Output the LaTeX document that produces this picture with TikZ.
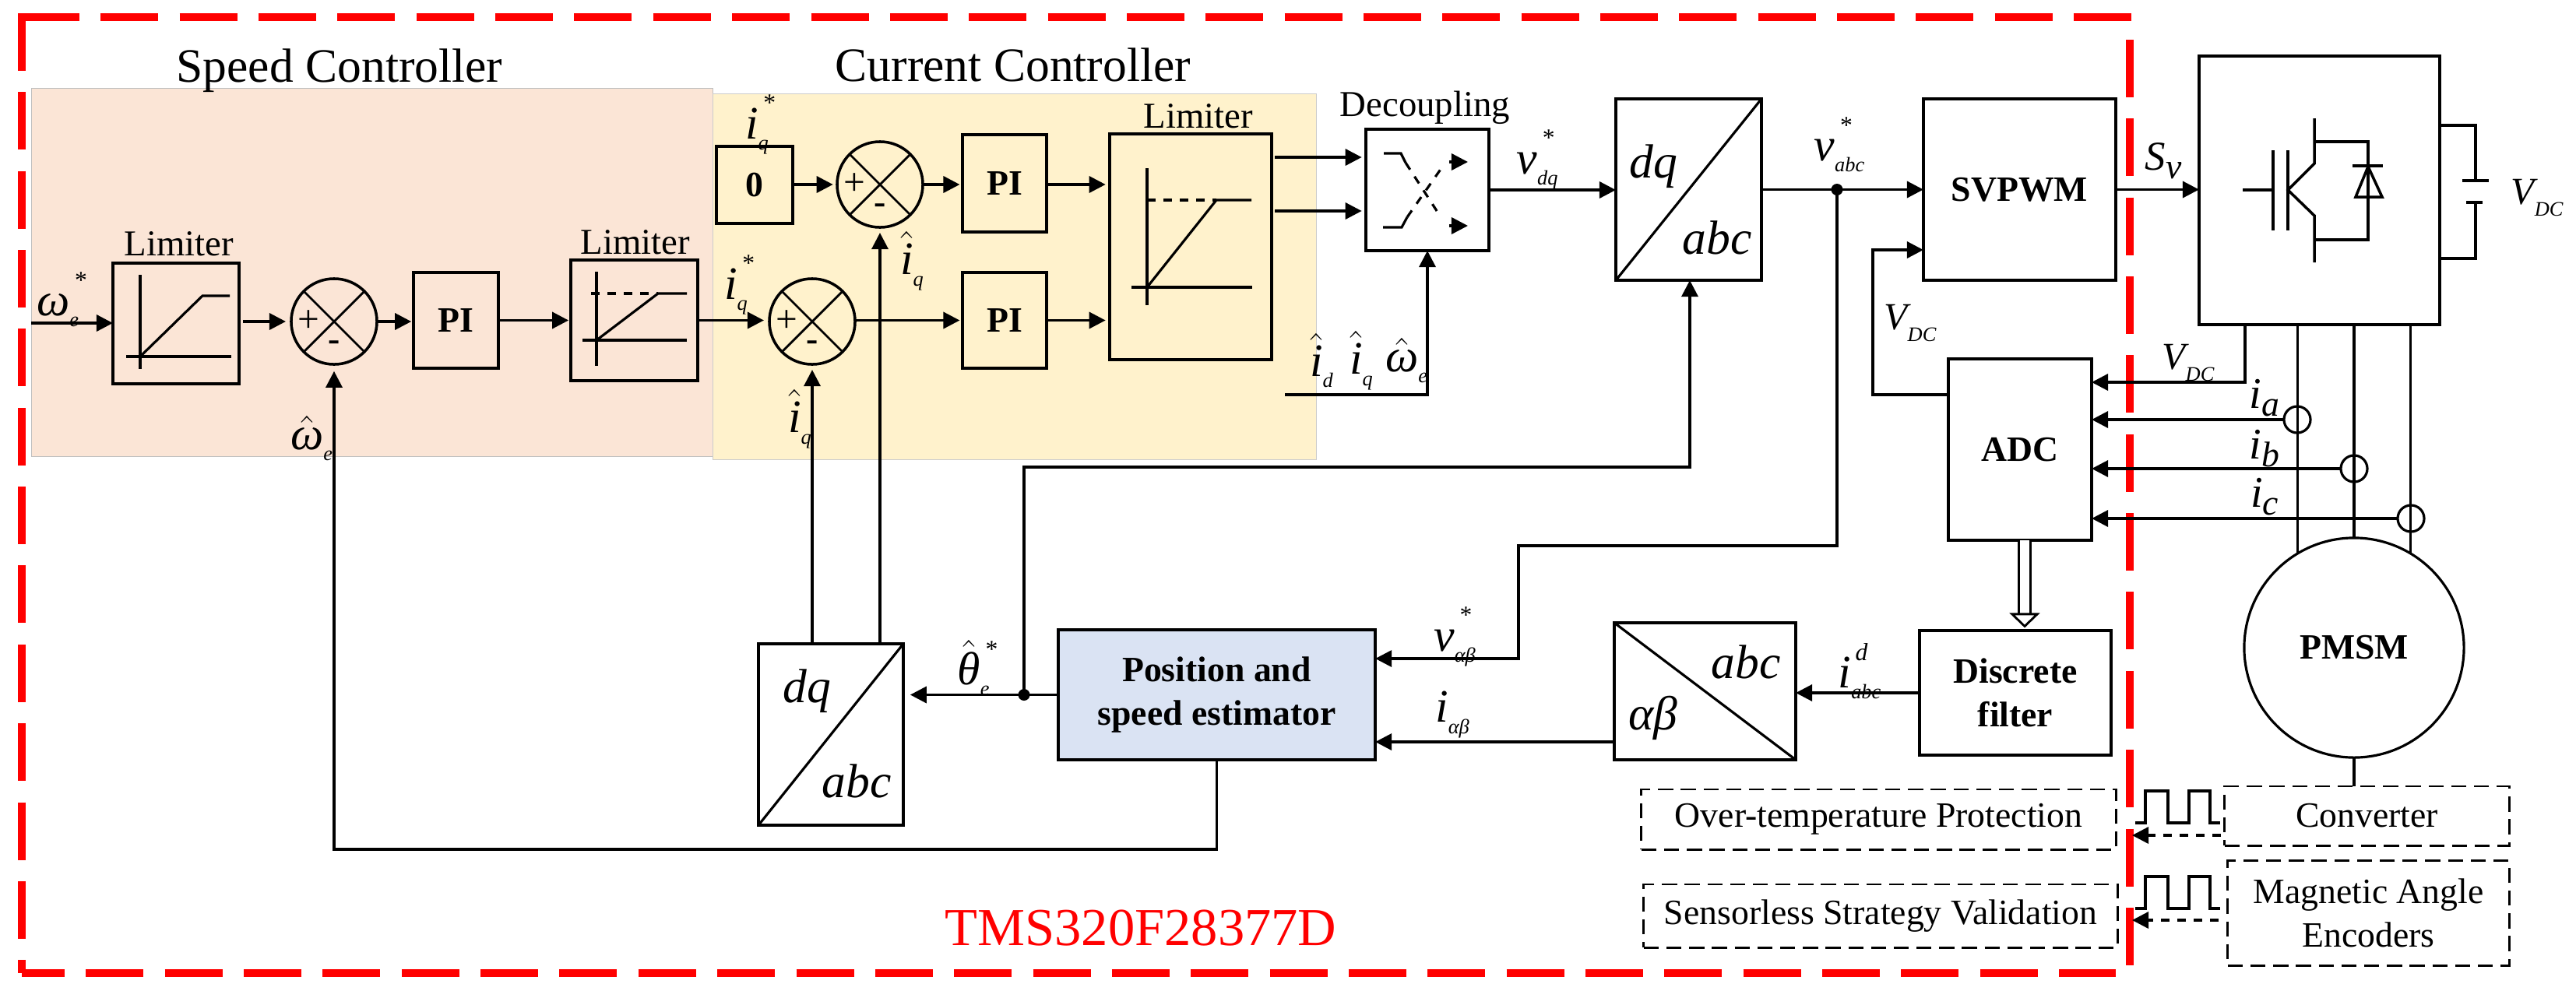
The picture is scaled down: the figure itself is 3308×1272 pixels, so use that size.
\documentclass[tikz,border=0pt]{standalone}
\usepackage{amsmath}
\usepackage{fontspec}
\setmainfont{Liberation Serif}
\usetikzlibrary{arrows.meta}
\definecolor{dspred}{HTML}{FF0000}
\definecolor{speedbg}{HTML}{FBE5D6}
\definecolor{currentbg}{HTML}{FFF2CC}
\definecolor{estbg}{HTML}{DAE3F3}
\newcommand{\fsz}[1]{\fontsize{#1}{#1}\selectfont}
% base letter, subscript, superscript
\newcommand{\sym}[3]{{\itshape #1}\rlap{\raisebox{10pt}{\fsz{9}\,\itshape #3}}\raisebox{-4pt}{\fsz{7.5}\itshape #2}}
\newcommand{\hatit}[1]{$\hat{\mbox{\itshape #1}}$}
\newcommand{\vdc}{{\fsz{14}\itshape V}\raisebox{-4pt}{\fsz{7.5}\itshape DC}}
\newcommand{\iph}[1]{{\fsz{16}\itshape i}\raisebox{-3pt}{\fsz{13}\itshape #1}}
\tikzset{
  blockbox/.style={draw,line width=1.1pt,inner sep=0pt,outer sep=0pt,align=center,font=\fsz{13}\bfseries},
  sumnode/.style={draw,circle,line width=1pt,minimum size=1.1cm,inner sep=0pt,outer sep=0pt},
  sensor/.style={draw,circle,line width=.9pt,minimum size=.34cm,inner sep=0pt,outer sep=0pt},
  dot/.style={fill,circle,minimum size=.15cm,inner sep=0pt,outer sep=0pt},
  dashbox/.style={draw,line width=.85pt,dash pattern=on 5.5pt off 2.8pt,inner sep=0pt,outer sep=0pt,align=center,font=\fsz{13}},
  sig/.style={->,line width=1pt},
  thinline/.style={line width=.95pt},
  hollow/.style={double,double distance=3.6pt,line width=.8pt,-{Triangle[open,length=5.4pt,width=11pt,line width=.8pt]}},
  title/.style={font=\fsz{17.5},inner sep=0pt,anchor=base},
  limcap/.style={font=\fsz{13.3},inner sep=0pt,anchor=base},
  lab/.style={font=\fsz{17},inner sep=0pt},
  transf/.style={font=\fsz{17.5}\itshape,inner sep=0pt},
  reddash/.style={dspred,line width=2.85pt,dash pattern=on 21.05pt off 7.77pt}
}

\begin{document}
\begin{tikzpicture}[x=.01cm,y=-.01cm,>={Triangle[length=6pt,width=6pt]},line join=miter]
  \useasboundingbox (0,0) rectangle (3308,1272);

  % shaded controller areas
  \fill[speedbg,draw=black!25,line width=.2pt] (40,113) rectangle (915,586);
  \fill[currentbg,draw=black!20,line width=.2pt] (915,120) rectangle (1690,590);

  % DSP boundary
  \draw[reddash] (28,22) -- (2739,22);
  \draw[reddash] (28,17) -- (28,1250);
  \draw[reddash] (2735,51) -- (2735,1240);
  \draw[reddash,dash phase=5.4pt] (28,1250) -- (2717,1250);
  \node[font=\fsz{19.5},text=dspred,inner sep=0pt] (dsp) at (1465,1192) {TMS320F28377D};

  \node[title] (speedtitle) at (436,105) {Speed Controller};
  \node[title] (currenttitle) at (1301,104) {Current Controller};

  % speed loop
  \node[blockbox,minimum width=1.62cm,minimum height=1.55cm] (lim1) at (226,415.5) {};
  \node[limcap] (limcap1) at (230,328) {Limiter};
  \node[sumnode] (sum1) at (429,413) {};
  \node[blockbox,minimum width=1.09cm,minimum height=1.23cm] (pi1) at (585.5,411.5) {PI};
  \node[blockbox,minimum width=1.63cm,minimum height=1.55cm] (lim2) at (814.5,411.5) {};
  \node[limcap] (limcap2) at (816,326) {Limiter};

  % current loops
  \node[sumnode] (sum2) at (1043,413) {};
  \node[sumnode] (sum3) at (1130,237) {};
  \node[blockbox,minimum width=.98cm,minimum height=.99cm] (zero) at (969,237.5) {0};
  \node[blockbox,minimum width=1.08cm,minimum height=1.25cm] (pi2) at (1290,235.5) {PI};
  \node[blockbox,minimum width=1.08cm,minimum height=1.23cm] (pi3) at (1290,411.5) {PI};
  \node[blockbox,minimum width=2.08cm,minimum height=2.9cm] (lim3) at (1529,317) {};
  \node[limcap] (limcap3) at (1539,164) {Limiter};
  \node[blockbox,minimum width=1.58cm,minimum height=1.56cm] (dec) at (1833,244) {};
  \node[limcap] (deccap) at (1830,149) {Decoupling};

  % modulation and converter side
  \node[blockbox,minimum width=1.87cm,minimum height=2.33cm] (dq1) at (2168.5,243.5) {};
  \node[blockbox,minimum width=2.47cm,minimum height=2.33cm] (svpwm) at (2593.5,243.5) {SVPWM};
  \node[blockbox,minimum width=3.09cm,minimum height=3.45cm] (inv) at (2978.5,244.5) {};
  \node[blockbox,minimum width=1.84cm,minimum height=2.33cm] (adc) at (2594,577.5) {ADC};
  \node[blockbox,minimum width=2.46cm,minimum height=1.6cm] (filt) at (2588,890) {Discrete\\[3pt]filter};
  \node[blockbox,minimum width=2.33cm,minimum height=1.76cm] (ab) at (2189.5,888) {};
  \node[blockbox,fill=estbg,minimum width=4.07cm,minimum height=1.67cm] (est) at (1562.5,892.5) {Position and\\[3pt]speed estimator};
  \node[blockbox,minimum width=1.86cm,minimum height=2.33cm] (dq2) at (1067,943.5) {};
  \node[draw,circle,line width=.9pt,minimum size=2.82cm,inner sep=0pt,outer sep=0pt,font=\fsz{13}\bfseries] (motor) at (3023,832) {PMSM};

  \node[dashbox,minimum width=6.09cm,minimum height=.77cm] (over) at (2412.5,1052.5) {Over-temperature Protection};
  \node[dashbox,minimum width=6.08cm,minimum height=.81cm] (sens) at (2415,1176.5) {Sensorless Strategy Validation};
  \node[dashbox,minimum width=3.65cm,minimum height=.76cm] (conv) at (3039.5,1048) {Converter};
  \node[dashbox,minimum width=3.61cm,minimum height=1.34cm] (magn) at (3041.5,1173) {Magnetic Angle\\[3pt]Encoders};

  % summing junction marks
  \foreach \s in {sum1,sum2,sum3} {
    \draw[line width=.8pt] (\s.45) -- (\s.225);
    \draw[line width=.8pt] (\s.135) -- (\s.-45);
    \node[font=\fsz{14},inner sep=0pt] (\s plus) at ([xshift=-.33cm]\s.center) {+};
    \node[font=\fsz{13}\bfseries,inner sep=0pt] (\s minus) at ([yshift=-.31cm]\s.center) {-};
  }

  % limiter curves
  \draw[line width=.9pt] (180,353) -- (180,474) (162,458) -- (297,458);
  \draw[line width=.9pt] (180,458) -- (260,380) -- (295,380);
  \draw[line width=.9pt] (766,349) -- (766,470) (748,437) -- (882,437);
  \draw[line width=.9pt] (766,437) -- (845,377) -- (882,377);
  \draw[line width=.9pt,dashed] (759,377) -- (845,377);
  \draw[line width=.9pt] (1473,216) -- (1473,392) (1453,369) -- (1608,369);
  \draw[line width=.9pt] (1473,369) -- (1562,257) -- (1607,257);
  \draw[line width=.9pt,dashed] (1473,257) -- (1562,257);

  % decoupling cross
  \draw[line width=.9pt] (1777,197) -- (1799,197) -- (1805,209);
  \draw[line width=.9pt,dashed] (1805,209) -- (1849,277);
  \draw[line width=.9pt] (1776,292) -- (1800,292) -- (1807,279);
  \draw[line width=.9pt,dashed] (1807,279) -- (1851,216);
  \draw[sig] (1861,290) -- (1885,290);
  \draw[sig] (1861,208) -- (1885,208);

  % transform blocks
  \draw[line width=.9pt] (dq1.south west) -- (dq1.north east);
  \draw[line width=.9pt] (dq2.south west) -- (dq2.north east);
  \draw[line width=.9pt] (ab.north west) -- (ab.south east);
  \node[transf] (dqa) at (2123,214) {dq};
  \node[transf] (abca) at (2205,305) {abc};
  \node[transf] (dqb) at (1036,888) {dq};
  \node[transf] (abcb) at (1100,1003) {abc};
  \node[transf] (abcc) at (2242,850) {abc};
  \node[transf] (albe) at (2123,922) {αβ};

  % igbt with diode
  \draw[line width=1pt] (2880,244) -- (2919,244) (2919,193) -- (2919,296) (2938,193) -- (2938,296);
  \draw[line width=1pt] (2972,152) -- (2972,210) -- (2938,244) -- (2972,277) -- (2972,337);
  \draw[line width=1pt] (2972,182) -- (3041,182) -- (3041,308) -- (2972,308);
  \draw[line width=1pt] (3041,214) -- (3025,253) -- (3059,253) -- cycle;
  \draw[line width=1pt] (3021,213) -- (3060,213);
  % dc link
  \draw[line width=1pt] (3133,161) -- (3179,161) -- (3179,232) (3162,232) -- (3196,232);
  \draw[line width=1pt] (3133,332) -- (3179,332) -- (3179,260) (3167,260) -- (3188,260);

  % speed and current paths
  \coordinate (win) at (40,415);
  \draw[sig] (win) -- (lim1.west |- win);
  \draw[sig,shorten >=2pt,shorten <=1.5pt] (lim1.east |- sum1) -- (sum1.west);
  \draw[sig,shorten >=.8pt] (sum1.east) -- (sum1.east -| pi1.west);
  \draw[sig,shorten >=.8pt] (pi1.east) -- (lim2.west);
  \draw[sig,shorten >=2pt] (lim2.east) -- (lim2.east -| sum2.west);
  \draw[sig,shorten >=1.5pt] (zero.east |- sum3) -- (sum3.west);
  \draw[sig,shorten >=1pt] (sum3.east) -- (sum3.east -| pi2.west);
  \draw[sig,shorten >=1pt] (sum2.east |- pi3) -- (pi3.west);
  \draw[sig,shorten >=1.5pt] (pi2.east |- sum3) -- (sum3 -| lim3.west);
  \draw[sig,shorten >=1.5pt] (pi3.east) -- (pi3.east -| lim3.west);
  \coordinate (cp1) at (1637,202);
  \coordinate (cp2) at (1637,271);
  \draw[sig,shorten >=1.5pt] (cp1) -- (cp1 -| dec.west);
  \draw[sig,shorten >=1.5pt] (cp2) -- (cp2 -| dec.west);
  \draw[sig] (dec.east) -- (dec.east -| dq1.west);
  \draw[sig] (dq1.east) -- (svpwm.west);
  \draw[sig] (svpwm.east) -- (svpwm.east -| inv.west);
  \node[dot] (jn2) at (2359,243.5) {};

  % feedback paths
  \coordinate (fbk) at (429,1091);
  \draw[->,thinline,shorten >=2.5pt] (est.south) |- (fbk) -- (sum1.south);
  \draw[->,thinline,shorten >=2pt] (sum2.south |- dq2.north) -- (sum2.south);
  \draw[->,thinline,shorten >=2pt] (sum3.south |- dq2.north) -- (sum3.south);
  \coordinate (dfd) at (1650,507);
  \draw[->,thinline] (dfd) -| (dec.south);
  \node[dot] (jn1) at (1315,892.5) {};
  \draw[sig,shorten >=2.5pt] (est.west) -- (est.west -| dq2.east);
  \coordinate (thc) at (2170,600);
  \draw[->,thinline] (jn1.center) |- (thc) -- (thc |- dq1.south);
  \coordinate (vcA) at (2359,701);
  \coordinate (vcB) at (1950,701);
  \coordinate (vcC) at (1950,846);
  \draw[->,thinline] (jn2.center) -- (vcA) -- (vcB) -- (vcC) -- (vcC -| est.east);
  \coordinate (ibe) at (2073,953);
  \draw[sig] (ibe) -- (ibe -| est.east);
  \draw[sig] (filt.west) -- (filt.west -| ab.east);

  % converter measurements
  \coordinate (adcV) at (2502,507);
  \coordinate (vdA) at (2405,507);
  \coordinate (vdB) at (2405,321);
  \draw[sig] (adcV) -- (vdA) -- (vdB) -- (vdB -| svpwm.west);
  \coordinate (invV) at (2883,417);
  \coordinate (adcD) at (2686,491);
  \draw[sig] (invV) |- (adcD);
  \node[sensor] (sa) at (2950,539) {};
  \node[sensor] (sb) at (3023,602) {};
  \node[sensor] (sc) at (3096,666) {};
  \draw[thinline] (motor.121 |- inv.south) -- (motor.121);
  \draw[thinline] (motor.90 |- inv.south) -- (motor.90);
  \draw[thinline] (motor.59 |- inv.south) -- (motor.59);
  \draw[sig] (sa.west) -- (sa.west -| adc.east);
  \draw[sig] (sb.west) -- (sb.west -| adc.east);
  \draw[sig] (sc.west) -- (sc.west -| adc.east);
  \draw[hollow,shorten >=1pt] ([xshift=.06cm]adc.south) -- ([xshift=.06cm]adc.south |- filt.north);
  \draw[thinline] (motor.south) -- (motor.south |- conv.north);

  % pwm pulses and signal arrows
  \foreach \ylo/\yhi in {1057/1016,1167/1126} {
    \draw[line width=.9pt] (2742,\ylo) -- (2755,\ylo) -- (2755,\yhi) -- (2784,\yhi) -- (2784,\ylo)
      -- (2811,\ylo) -- (2811,\yhi) -- (2838,\yhi) -- (2838,\ylo) -- (2851,\ylo);
  }
  \coordinate (pa) at (2852,1073);
  \coordinate (pb) at (2738,1073);
  \coordinate (pc) at (2849,1182);
  \coordinate (pd) at (2738,1182);
  \draw[sig,dashed] (pa) -- (pb);
  \draw[sig,dashed] (pc) -- (pd);

  % signal labels
  \node[lab] (lwref) at (74,385) {\sym{ω}{e}{*}};
  \node[lab] (liq1) at (945,366) {\sym{i}{q}{*}};
  \node[lab] (liq2) at (972,160) {\sym{i}{q}{*}};
  \node[lab] (lwh1) at (400,563) {\sym{\hatit{ω}}{e}{}};
  \node[lab] (lih1) at (1027,538) {\sym{\hatit{i}}{q}{}};
  \node[lab] (lih2) at (1171,335) {\sym{\hatit{i}}{q}{}};
  \node[lab] (lid) at (1697,463) {\sym{\hatit{i}}{d}{}};
  \node[lab] (liq3) at (1748,463) {\sym{\hatit{i}}{q}{}};
  \node[lab] (lwh2) at (1806,463) {\sym{\hatit{ω}}{e}{}};
  \node[lab] (lvdq) at (1974,205) {\sym{v}{dq}{*}};
  \node[lab] (lvabc) at (2362,186) {\sym{v}{abc}{*}};
  \node[lab] (lsv) at (2778,207) {{\fsz{15}\itshape S}\raisebox{-3pt}{\fsz{13}\itshape v}};
  \node[inner sep=0pt] (lvdc1) at (2453,415) {\vdc};
  \node[inner sep=0pt] (lvdc2) at (2810,466) {\vdc};
  \node[inner sep=0pt] (lvdc3) at (3258,254) {\vdc};
  \node[inner sep=0pt] (lia) at (2908,511) {\iph{a}};
  \node[inner sep=0pt] (lib) at (2908,576) {\iph{b}};
  \node[inner sep=0pt] (lic) at (2908,638) {\iph{c}};
  \node[lab] (liabc) at (2388,862) {\sym{i}{abc}{d}};
  \node[lab] (lvab) at (1868,818) {\sym{v}{αβ}{*}};
  \node[lab] (liab) at (1865,918) {\sym{i}{αβ}{}};
  \node[lab] (lth) at (1250,858) {\sym{\hatit{θ}}{e}{*}};
\end{tikzpicture}
\end{document}
